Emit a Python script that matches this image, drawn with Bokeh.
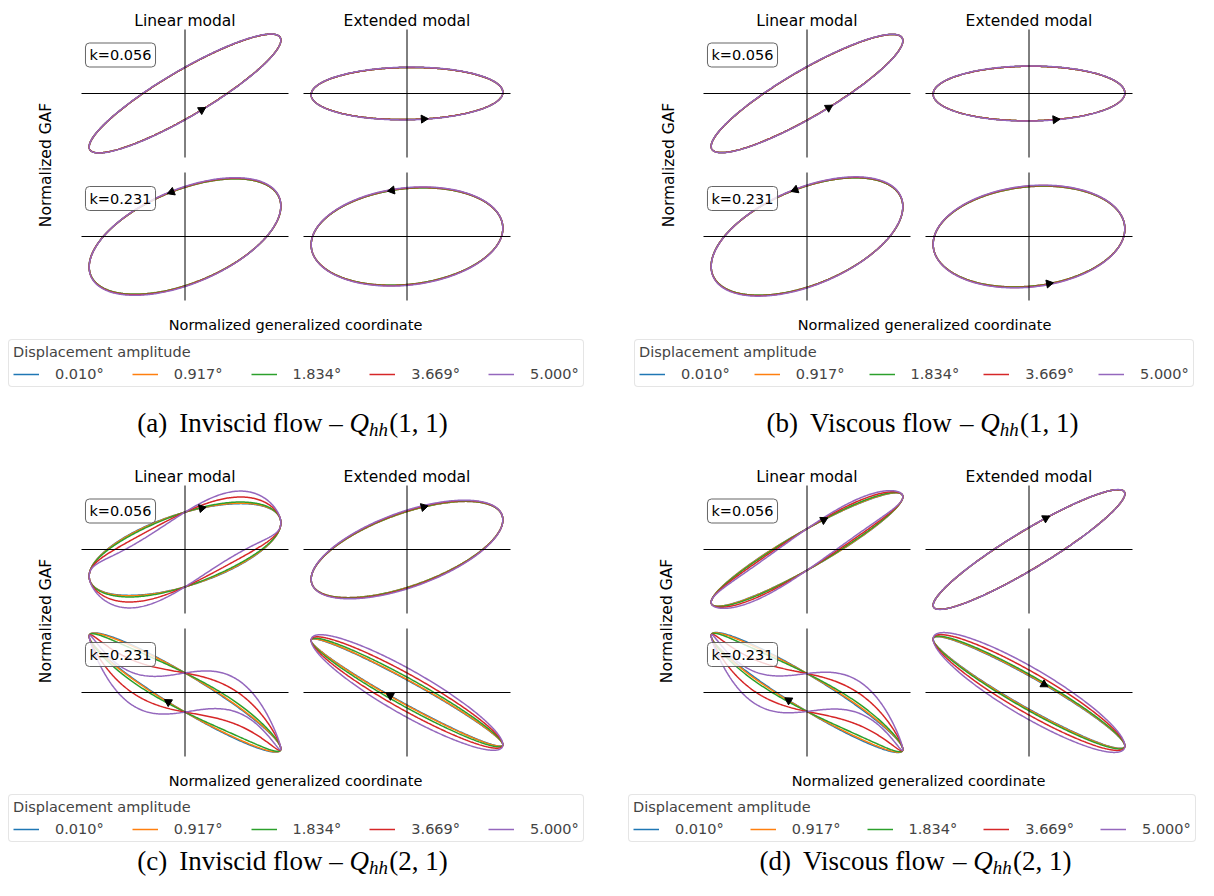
import math
import numpy as np
from bokeh.plotting import figure
from bokeh.models import Range1d, Label, Legend, LegendItem
from bokeh.embed import file_html
from bokeh.resources import INLINE

# ---------------- values ----------------
AMPLITUDES = ["0.010°", "0.917°", "1.834°", "3.669°", "5.000°"]
COLORS = ["#1f77b4", "#ff7f0e", "#2ca02c", "#d62728", "#9467bd"]
COLUMN_TITLES = ["Linear modal", "Extended modal"]
FREQ_LABELS = ["k=0.056", "k=0.231"]
X_LABEL = "Normalized generalized coordinate"
Y_LABEL = "Normalized GAF"
LEGEND_TITLE = "Displacement amplitude"

# Each loop: GAF = in_phase*q + quadrature*sin(wt) + cubic*q*(1-q^2),  q = cos(wt)
# (a) inviscid flow, Q_hh(1,1)
a_lin_k056 = dict(in_phase=[0.90, 0.90, 0.90, 0.90, 0.90], quadrature=[0.44, 0.44, 0.44, 0.44, 0.445], cubic=[0, 0, 0, 0, 0])
a_ext_k056 = dict(in_phase=[0.02, 0.02, 0.02, 0.02, 0.02], quadrature=[0.44, 0.44, 0.44, 0.44, 0.445], cubic=[0, 0, 0, 0, 0])
a_lin_k231 = dict(in_phase=[0.51, 0.51, 0.51, 0.515, 0.52], quadrature=[0.83, 0.83, 0.832, 0.838, 0.845], cubic=[0, 0, 0, 0, 0])
a_ext_k231 = dict(in_phase=[0.14, 0.14, 0.14, 0.14, 0.14], quadrature=[0.81, 0.81, 0.812, 0.818, 0.825], cubic=[0, 0, 0, 0, 0])
a_arrow_phase = [-80, -80, 98, 99]

# (b) viscous flow, Q_hh(1,1)
b_lin_k056 = dict(in_phase=[0.89, 0.89, 0.89, 0.89, 0.89], quadrature=[0.45, 0.45, 0.45, 0.45, 0.455], cubic=[0, 0, 0, 0, 0])
b_ext_k056 = dict(in_phase=[0.01, 0.01, 0.01, 0.01, 0.01], quadrature=[0.46, 0.46, 0.46, 0.46, 0.465], cubic=[0, 0, 0, 0, 0])
b_lin_k231 = dict(in_phase=[0.50, 0.50, 0.50, 0.505, 0.51], quadrature=[0.855, 0.855, 0.857, 0.862, 0.868], cubic=[0, 0, 0, 0, 0])
b_ext_k231 = dict(in_phase=[0.13, 0.13, 0.13, 0.13, 0.13], quadrature=[0.84, 0.84, 0.843, 0.85, 0.857], cubic=[0, 0, 0, 0, 0])
b_arrow_phase = [-77, -74, 97, -78]

# (c) inviscid flow, Q_hh(2,1)
c_lin_k056 = dict(in_phase=[0.45, 0.45, 0.45, 0.45, 0.45], quadrature=[-0.63, -0.63, -0.63, -0.63, -0.63], cubic=[0.0, 0.02, 0.07, 0.29, 0.55])
c_ext_k056 = dict(in_phase=[0.50, 0.50, 0.50, 0.50, 0.50], quadrature=[-0.64, -0.64, -0.645, -0.655, -0.665], cubic=[0, 0, 0, 0, 0])
c_lin_k231 = dict(in_phase=[-0.95, -0.95, -0.95, -0.95, -0.95], quadrature=[-0.33, -0.33, -0.33, -0.33, -0.33], cubic=[0.0, 0.04, 0.16, 0.65, 1.2])
c_ext_k231 = dict(in_phase=[-0.88, -0.88, -0.88, -0.88, -0.88], quadrature=[-0.21, -0.22, -0.26, -0.33, -0.42], cubic=[0, 0, 0, 0, 0])
c_arrow_phase = [-80, -80, 100, 100]

# (d) viscous flow, Q_hh(2,1)
d_lin_k056 = dict(in_phase=[0.89, 0.89, 0.89, 0.89, 0.89], quadrature=[-0.35, -0.35, -0.35, -0.35, -0.35], cubic=[0.0, 0.01, 0.04, 0.12, 0.22])
d_ext_k056 = dict(in_phase=[0.94, 0.94, 0.94, 0.94, 0.94], quadrature=[-0.37, -0.37, -0.37, -0.37, -0.372], cubic=[0, 0, 0, 0, 0])
d_lin_k231 = dict(in_phase=[-0.96, -0.96, -0.96, -0.96, -0.96], quadrature=[-0.32, -0.32, -0.32, -0.32, -0.32], cubic=[0.0, 0.05, 0.16, 0.62, 1.15])
d_ext_k231 = dict(in_phase=[-0.90, -0.90, -0.90, -0.90, -0.90], quadrature=[-0.28, -0.29, -0.31, -0.38, -0.46], cubic=[0, 0, 0, 0, 0])
d_arrow_phase = [-80, -80, 101, -81]

CAPTION_TAGS = ["(a)", "(b)", "(c)", "(d)"]
CAPTION_FLOWS = ["Inviscid flow", "Viscous flow", "Inviscid flow", "Viscous flow"]
CAPTION_ENTRIES = ["(1, 1)", "(1, 1)", "(2, 1)", "(2, 1)"]

# ---------------- layout (picture pixels, origin top-left) ----------------
FIG_W, FIG_H = 1198, 880
LIM = 1.08
SANS = "DejaVu Sans"
SERIF = "Liberation Serif"

COLS_L = [(81, 288), (303, 510)]
COLS_R = [(703, 910), (925, 1132)]
ROWS_T = [(29, 157), (172, 300)]
ROWS_B = [(485, 613), (628, 756)]

PANELS = [
    dict(loops=[a_lin_k056, a_ext_k056, a_lin_k231, a_ext_k231], arrows=a_arrow_phase,
         cols=COLS_L, rows=ROWS_T, title_mid=20, gaf=(45, 164.5), xlabel=(295, 324.5),
         legend=(8, 387, 574), caption=(292, 422), kbox_x=120, kbox_y=[54.5, 198]),
    dict(loops=[b_lin_k056, b_ext_k056, b_lin_k231, b_ext_k231], arrows=b_arrow_phase,
         cols=COLS_R, rows=ROWS_T, title_mid=20, gaf=(668, 164.5), xlabel=(924, 324.5),
         legend=(634, 387, 562), caption=(922, 422), kbox_x=742, kbox_y=[54.5, 198]),
    dict(loops=[c_lin_k056, c_ext_k056, c_lin_k231, c_ext_k231], arrows=c_arrow_phase,
         cols=COLS_L, rows=ROWS_B, title_mid=476, gaf=(45, 620.5), xlabel=(295, 780.5),
         legend=(8, 842, 574), caption=(292, 860), kbox_x=120, kbox_y=[510.5, 654]),
    dict(loops=[d_lin_k056, d_ext_k056, d_lin_k231, d_ext_k231], arrows=d_arrow_phase,
         cols=COLS_R, rows=ROWS_B, title_mid=476, gaf=(666, 620.5), xlabel=(918, 780.5),
         legend=(628, 842, 566), caption=(915, 860), kbox_x=742, kbox_y=[510.5, 654]),
]

TIMES_ROMAN = {'(': 333, ')': 333, 'a': 444, 'b': 500, 'c': 444, 'd': 500, ' ': 250, 'I': 333,
               'n': 500, 'v': 500, 'i': 278, 's': 389, 'f': 333, 'l': 278, 'o': 500, 'w': 722,
               'V': 722, 'u': 500, '–': 500, ',': 250, '1': 500, '2': 500}
TIMES_ITALIC = {'Q': 722, 'h': 500}


def py(y):
    return FIG_H - y


def tw(s, table, size):
    return sum(table.get(ch, 500) for ch in s) / 1000.0 * size


p = figure(width=FIG_W, height=FIG_H, x_range=Range1d(0, FIG_W), y_range=Range1d(0, FIG_H),
           x_axis_type=None, y_axis_type=None, toolbar_location=None,
           output_backend="svg", min_border=0)
p.grid.visible = False
p.outline_line_color = None
p.background_fill_color = "white"
p.border_fill_color = "white"

t = np.linspace(0.0, 2.0 * np.pi, 481)
q = np.cos(t)

for pi_, P in enumerate(PANELS):
    legend_renderers = []
    for si in range(4):
        ci, ri = si % 2, si // 2
        x0, x1 = P["cols"][ci]
        y0, y1 = P["rows"][ri]
        sub = p.subplot(x_source=Range1d(-LIM, LIM), y_source=Range1d(-LIM, LIM),
                        x_target=Range1d(x0, x1), y_target=Range1d(py(y1), py(y0)))
        loop = P["loops"][si]
        for k in range(5):
            g = loop["in_phase"][k] * q + loop["quadrature"][k] * np.sin(t) + loop["cubic"][k] * q * (1 - q ** 2)
            r = sub.line(q, g, line_color=COLORS[k], line_width=1.5)
            if si == 0:
                legend_renderers.append(r)
        # zero-positioned spines
        sub.segment(x0=[-LIM, 0], y0=[0, -LIM], x1=[LIM, 0], y1=[0, LIM],
                    line_color="black", line_width=1)
        # direction arrow on the first loop
        ta = math.radians(P["arrows"][si])
        qa = math.cos(ta)
        ga = loop["in_phase"][0] * qa + loop["quadrature"][0] * math.sin(ta) + loop["cubic"][0] * qa * (1 - qa ** 2)
        dq = -math.sin(ta)
        dg = loop["in_phase"][0] * dq + loop["quadrature"][0] * math.cos(ta) + loop["cubic"][0] * (1 - 3 * qa ** 2) * dq
        sxs = (x1 - x0) / (2 * LIM)
        sys_ = (y1 - y0) / (2 * LIM)
        theta = math.atan2(dg * sys_, dq * sxs)
        sub.scatter([qa], [ga], marker="triangle", size=8, angle=theta - math.pi / 2,
                    fill_color="black", line_color="black")

    # column titles
    for ci in range(2):
        cx = sum(P["cols"][ci]) / 2
        p.add_layout(Label(x=cx, y=py(P["title_mid"]), text=COLUMN_TITLES[ci], text_align="center",
                           text_baseline="middle", text_font=SANS, text_font_size="15.5px",
                           text_color="black"))
    # reduced frequency boxes
    for ri in range(2):
        p.add_layout(Label(x=P["kbox_x"], y=py(P["kbox_y"][ri]), text=FREQ_LABELS[ri],
                           text_align="center", text_baseline="middle", text_font=SANS,
                           text_font_size="14.5px", text_color="black",
                           background_fill_color="white", background_fill_alpha=0.8,
                           border_line_color="#555555", border_line_width=1, border_line_alpha=0.9,
                           padding=4, border_radius=4))
    # axis labels
    gx, gy = P["gaf"]
    p.add_layout(Label(x=gx, y=py(gy), text=Y_LABEL, angle=math.pi / 2, text_align="center",
                       text_baseline="middle", text_font=SANS, text_font_size="15.5px", text_color="black"))
    lx, ly = P["xlabel"]
    p.add_layout(Label(x=lx, y=py(ly), text=X_LABEL, text_align="center", text_baseline="middle",
                       text_font=SANS, text_font_size="14.5px", text_color="black"))
    # legend
    lgx, lgy, lgw = P["legend"]
    pad = 4
    spacing = int(round((lgw - 2 * pad - 456) / 4))
    legend = Legend(items=[LegendItem(label=AMPLITUDES[k], renderers=[legend_renderers[k]]) for k in range(5)],
                    orientation="horizontal", location=(lgx, FIG_H - lgy), margin=0, padding=pad,
                    spacing=spacing, glyph_width=26, glyph_height=14, label_standoff=16, label_height=14,
                    title=LEGEND_TITLE, title_text_font=SANS, title_text_font_size="14.5px",
                    title_text_font_style="normal", title_standoff=6,
                    label_text_font=SANS, label_text_font_size="14.5px",
                    border_line_color="#cccccc", border_line_width=1, border_radius=4,
                    background_fill_color="white", background_fill_alpha=0.8)
    p.add_layout(legend)
    # caption with mixed styles: (tag) flow – Q_hh(i, j)
    F = 27
    cx, cm = P["caption"]
    pieces = [(CAPTION_TAGS[pi_], "normal", F, 0.0, 0.45 * F),
              (CAPTION_FLOWS[pi_], "normal", F, 0.0, 0.25 * F),
              ("–", "normal", F, 0.0, 0.25 * F),
              ("Q", "italic", F, 0.0, 0.0),
              ("hh", "italic", 0.7 * F, -0.27 * F, 0.05 * F),
              (CAPTION_ENTRIES[pi_], "normal", F, 0.0, 0.0)]
    widths = []
    for s, style, size, _, gap in pieces:
        table = TIMES_ITALIC if style == "italic" else TIMES_ROMAN
        widths.append(tw(s, table, size) + gap)
    xcur = cx - sum(widths) / 2
    for (s, style, size, dy, gap), w in zip(pieces, widths):
        p.add_layout(Label(x=xcur, y=py(cm) + dy, text=s, text_align="left", text_baseline="middle",
                           text_font=SERIF, text_font_style=style, text_font_size=f"{size:.1f}px",
                           text_color="black"))
        xcur += w

open("out.html", "w").write(file_html(p, INLINE))
